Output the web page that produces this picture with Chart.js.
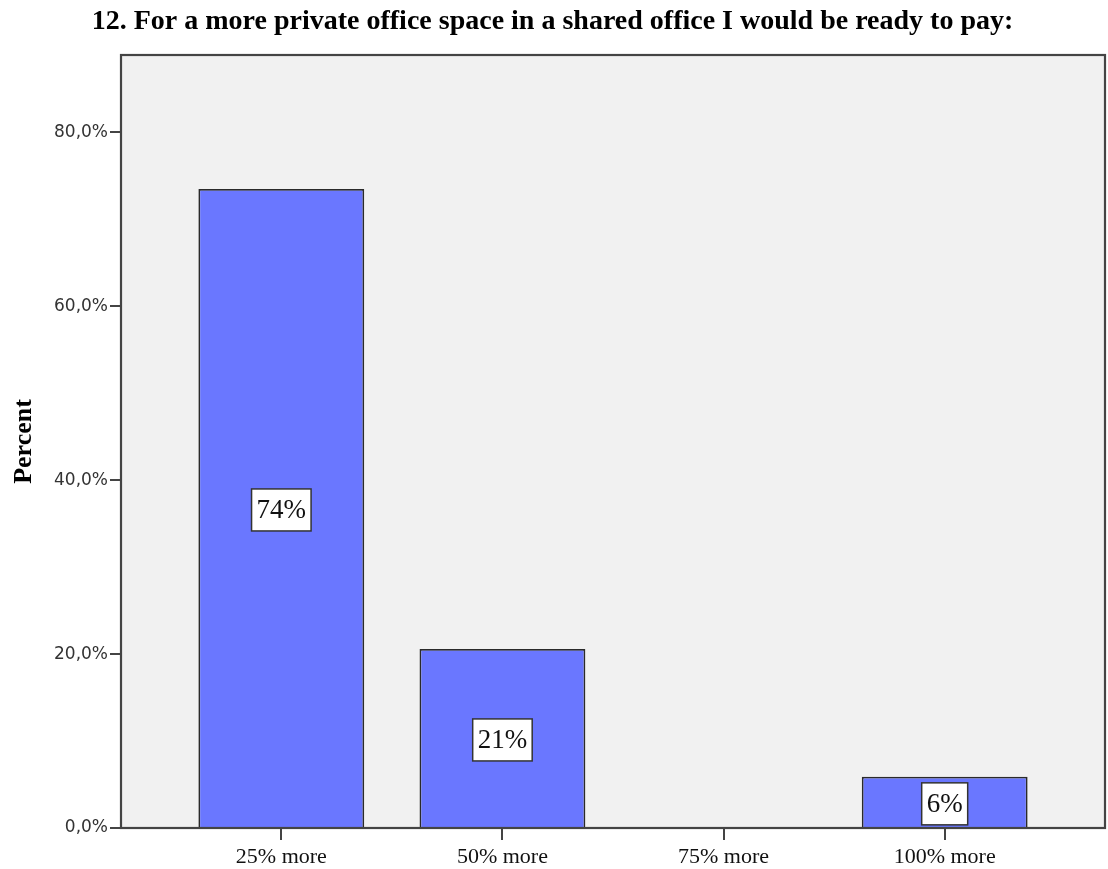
<!DOCTYPE html>
<html>
<head>
<meta charset="utf-8">
<script src="https://cdn.jsdelivr.net/npm/chart.js@4/dist/chart.umd.min.js"></script>
<style>
  html, body { margin: 0; padding: 0; background: #ffffff; }
  #wrap { width: 1108px; height: 869px; }
</style>
</head>
<body>
<div id="wrap"><canvas id="chart" width="1108" height="869"></canvas></div>
<script>
// Answer categories and the share of respondents (percent) for each
const categories = ['25% more', '50% more', '75% more', '100% more'];
const percentValues = [73.5, 20.6, 0, 5.9];
const yTickValues = [0, 20, 40, 60, 80];
const yMax = 88.9;
const chartTitle = '12. For a more private office space in a shared office I would be ready to pay:';
const yAxisTitle = 'Percent';

const points = categories.map((c, i) => ({ x: i, y: percentValues[i] }));

const formatTick = v => v.toFixed(1).replace('.', ',') + '%';

// Grey plot background and the dark frame around the plot area
const frame = {
  id: 'frame',
  beforeDraw(chart) {
    const { ctx, chartArea: a } = chart;
    ctx.save();
    ctx.fillStyle = '#f1f1f1';
    ctx.fillRect(a.left, a.top, a.right - a.left, a.bottom - a.top);
    ctx.restore();
  },
  afterDatasetsDraw(chart) {
    const { ctx, chartArea: a } = chart;
    ctx.save();
    ctx.strokeStyle = '#444444';
    ctx.lineWidth = 2.2;
    ctx.strokeRect(a.left, a.top, a.right - a.left, a.bottom - a.top);
    ctx.restore();
  }
};

// Boxed percentage labels in the middle of each bar
const boxLabels = {
  id: 'boxLabels',
  afterDraw(chart) {
    const { ctx } = chart;
    const meta = chart.getDatasetMeta(0);
    ctx.save();
    ctx.font = '27px "Liberation Serif", "Times New Roman", serif';
    ctx.textAlign = 'center';
    ctx.textBaseline = 'middle';
    meta.data.forEach((bar, i) => {
      const v = percentValues[i];
      if (!v) return;
      const text = Math.round(v) + '%';
      const w = ctx.measureText(text).width + 10;
      const h = 42;
      const cx = bar.x;
      const cy = (bar.y + bar.base) / 2 + 2;
      ctx.fillStyle = '#ffffff';
      ctx.fillRect(cx - w / 2, cy - h / 2, w, h);
      ctx.strokeStyle = '#333333';
      ctx.lineWidth = 1.5;
      ctx.strokeRect(cx - w / 2, cy - h / 2, w, h);
      ctx.fillStyle = '#111111';
      ctx.fillText(text, cx, cy + 1);
    });
    ctx.restore();
  }
};

new Chart(document.getElementById('chart'), {
  type: 'bar',
  data: {
    datasets: [{
      data: points,
      backgroundColor: '#6a77ff',
      borderColor: '#2a2a2a',
      borderWidth: 1.8,
      barPercentage: 0.75,
      categoryPercentage: 1
    }]
  },
  options: {
    responsive: false,
    animation: false,
    layout: { padding: { left: 0, right: 3, top: 0, bottom: 0 } },
    plugins: {
      legend: { display: false },
      tooltip: { enabled: false },
      title: {
        display: true,
        text: chartTitle,
        color: '#000000',
        font: { family: '"Liberation Serif", "Times New Roman", serif', size: 28, weight: 'bold', lineHeight: 1.2 },
        padding: { top: 5, bottom: 16.4 }
      }
    },
    scales: {
      x: {
        type: 'linear',
        min: -0.725,
        max: 3.725,
        offset: false,
        afterBuildTicks(scale) {
          scale.ticks = categories.map((c, i) => ({ value: i }));
        },
        afterFit(scale) { scale.height = 41; },
        border: { display: false },
        grid: {
          offset: false,
          drawOnChartArea: false,
          drawTicks: true,
          tickLength: 12,
          color: '#444444',
          lineWidth: 2
        },
        ticks: {
          autoSkip: false,
          maxRotation: 0,
          padding: 4,
          color: '#111111',
          font: { family: '"Liberation Serif", "Times New Roman", serif', size: 22 },
          callback: (v, i) => categories[i]
        }
      },
      y: {
        min: 0,
        max: yMax,
        afterBuildTicks(scale) {
          scale.ticks = yTickValues.map(v => ({ value: v }));
        },
        afterFit(scale) { scale.width = 121; },
        border: { display: false },
        grid: {
          drawOnChartArea: false,
          drawTicks: true,
          tickLength: 11,
          color: '#444444',
          lineWidth: 2
        },
        ticks: {
          padding: 2,
          color: '#333333',
          font: { family: '"DejaVu Sans", sans-serif', size: 17 },
          callback: v => formatTick(v)
        },
        title: {
          display: true,
          text: yAxisTitle,
          color: '#000000',
          font: { family: '"Liberation Serif", "Times New Roman", serif', size: 26, weight: 'bold', lineHeight: 1.2 },
          padding: { top: 9, bottom: 0 }
        }
      }
    }
  },
  plugins: [frame, boxLabels]
});
</script>
</body>
</html>
